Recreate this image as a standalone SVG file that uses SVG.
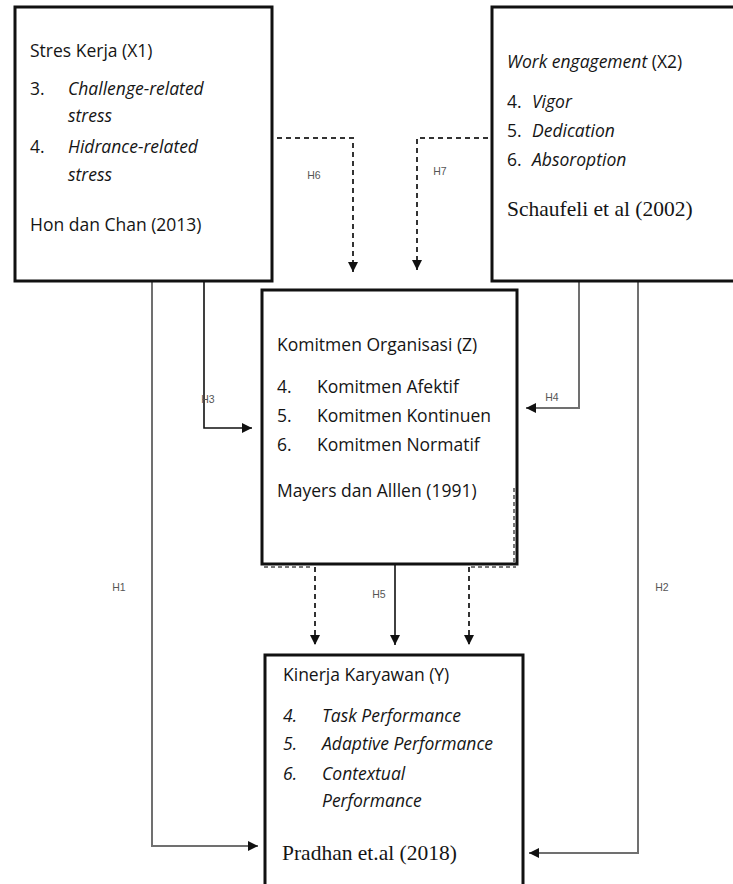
<svg xmlns="http://www.w3.org/2000/svg" width="733" height="884" viewBox="0 0 733 884">
<style>
.box{fill:#fff;stroke:#111;stroke-width:3}
.t{font-family:"Open Sans","Liberation Sans",Arial,sans-serif;font-size:17.5px;fill:#151515}
.i{font-style:italic}
.s{font-family:"Liberation Serif","Times New Roman",serif;font-size:21.5px;fill:#151515}
.h{font-family:"Liberation Sans",Arial,sans-serif;font-size:10.5px;fill:#555;text-anchor:middle}
.c{fill:none;stroke:#111;stroke-width:1.6}
.g{fill:none;stroke:#707070;stroke-width:2}
.d{fill:none;stroke:#333;stroke-width:2;stroke-dasharray:5 4}
.a{fill:none;stroke:#777;stroke-width:2;stroke-dasharray:4 3}
</style>
<defs>
<marker id="ah" viewBox="0 0 10 10" refX="10" refY="5" markerWidth="10" markerHeight="10" markerUnits="userSpaceOnUse" orient="auto">
<path d="M0,0 L10,5 L0,10 z" fill="#111"/>
</marker>
</defs>
<rect width="733" height="884" fill="#fff"/>

<g id="connectors">
<path class="g" d="M152,282 V846 H258" marker-end="url(#ah)"/>
<path class="c" d="M204,282 V428 H252" marker-end="url(#ah)"/>
<path class="g" d="M579,281 V408 H526" marker-end="url(#ah)"/>
<path class="g" d="M638,281 V853 H529" marker-end="url(#ah)"/>
<path class="d" d="M277,138 H353 V272" marker-end="url(#ah)"/>
<path class="d" d="M488,138 H417 V270" marker-end="url(#ah)"/>
<path class="c" d="M395,565 V645" marker-end="url(#ah)"/>
<path class="d" d="M315,567 V645" marker-end="url(#ah)"/>
<path class="d" d="M469,567 V645" marker-end="url(#ah)"/>
<text class="h" x="314" y="179">H6</text>
<text class="h" x="440" y="175">H7</text>
<text class="h" x="208" y="403">H3</text>
<text class="h" x="552" y="401">H4</text>
<text class="h" x="379" y="598">H5</text>
<text class="h" x="119" y="591">H1</text>
<text class="h" x="662" y="591">H2</text>
</g>

<g id="node-x1">
<rect class="box" x="15" y="7" width="257" height="274"/>
<text class="t" x="30" y="57">Stres Kerja (X1)</text>
<text class="t" x="30" y="95">3.</text>
<text class="t i" x="68" y="95">Challenge-related</text>
<text class="t i" x="68" y="122">stress</text>
<text class="t" x="30" y="153">4.</text>
<text class="t i" x="68" y="153">Hidrance-related</text>
<text class="t i" x="68" y="181">stress</text>
<text class="t" x="30" y="231">Hon dan Chan (2013)</text>
</g>

<g id="node-x2">
<rect class="box" x="492" y="7" width="250" height="274"/>
<text class="t" x="507" y="68"><tspan class="i">Work engagement</tspan> (X2)</text>
<text class="t" x="507" y="108">4.</text>
<text class="t i" x="532" y="108">Vigor</text>
<text class="t" x="507" y="137">5.</text>
<text class="t i" x="532" y="137">Dedication</text>
<text class="t" x="507" y="166">6.</text>
<text class="t i" x="532" y="166">Absoroption</text>
<text class="s" x="507" y="216">Schaufeli et al (2002)</text>
</g>

<g id="node-z">
<rect class="box" x="262" y="290" width="255" height="274"/>
<path class="a" d="M264,567 H313 M471,567 H516 M514,488 V564"/>
<text class="t" x="277" y="351">Komitmen Organisasi (Z)</text>
<text class="t" x="277" y="393">4.</text>
<text class="t" x="317" y="393">Komitmen Afektif</text>
<text class="t" x="277" y="422">5.</text>
<text class="t" x="317" y="422">Komitmen Kontinuen</text>
<text class="t" x="277" y="451">6.</text>
<text class="t" x="317" y="451">Komitmen Normatif</text>
<text class="t" x="277" y="497">Mayers dan Alllen (1991)</text>
</g>

<g id="node-y">
<rect class="box" x="265" y="655" width="258" height="250"/>
<text class="t" x="283" y="681">Kinerja Karyawan (Y)</text>
<text class="t i" x="283" y="722">4.</text>
<text class="t i" x="322" y="722">Task Performance</text>
<text class="t i" x="283" y="750">5.</text>
<text class="t i" x="322" y="750">Adaptive Performance</text>
<text class="t i" x="283" y="780">6.</text>
<text class="t i" x="322" y="780">Contextual</text>
<text class="t i" x="322" y="807">Performance</text>
<text class="s" x="282" y="860">Pradhan et.al (2018)</text>
</g>
</svg>
